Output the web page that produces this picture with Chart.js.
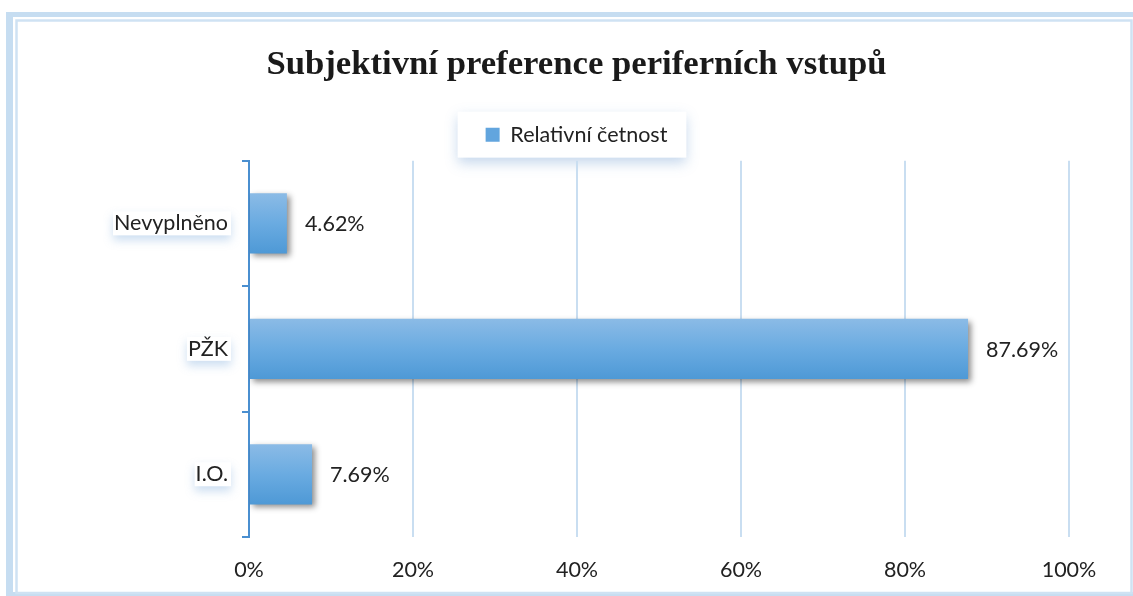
<!DOCTYPE html>
<html>
<head>
<meta charset="utf-8">
<script src="https://cdn.jsdelivr.net/npm/chart.js@4.4.1/dist/chart.umd.min.js"></script>
<style>
  html, body { margin: 0; padding: 0; background: #ffffff; }
  canvas { display: block; }
</style>
</head>
<body>
<canvas id="c" width="1133" height="596"></canvas>
<script>
const chartTitle = 'Subjektivní preference periferních vstupů';
const seriesName = 'Relativní četnost';
const categories = ['Nevyplněno', 'PŽK', 'I.O.'];
const values = [4.62, 87.69, 7.69];
const valueLabels = ['4.62%', '87.69%', '7.69%'];
const axisMin = 0;
const axisMax = 100;
const axisStep = 20;

const FONT = 'Lato, "Open Sans", sans-serif';
const FS = 21.5;

const framePlugin = {
  id: 'frame',
  beforeDraw(chart) {
    const ctx = chart.ctx;
    const W = chart.width, H = chart.height;
    ctx.save();
    ctx.fillStyle = '#ffffff';
    ctx.fillRect(0, 0, W, H);
    // outer band
    ctx.fillStyle = '#c6ddf1';
    ctx.fillRect(6, 12, W - 6, 5);
    ctx.fillRect(6, 12, 7, H - 12);
    ctx.fillRect(6, 592, W - 6, 4);
    // inner line
    ctx.strokeStyle = '#cfe2f3';
    ctx.lineWidth = 2.5;
    ctx.strokeRect(16.5, 20.5, W - 18, 572.5);
    // legend frame
    const lg = chart.legend;
    if (lg && lg.legendHitBoxes && lg.legendHitBoxes.length) {
      const hb = lg.legendHitBoxes[0];
      const x0 = hb.left - 28, x1 = hb.left + hb.width + 19;
      const y0 = lg.top - 2.25, y1 = lg.top + 43.75;
      ctx.shadowColor = 'rgba(90,140,200,0.35)';
      ctx.shadowBlur = 12;
      ctx.shadowOffsetY = 5;
      ctx.fillStyle = '#ffffff';
      ctx.fillRect(x0, y0, x1 - x0, y1 - y0);
      ctx.shadowColor = 'transparent';
    }
    // soft glow behind category labels
    const ys = chart.scales.y;
    if (ys) {
      ctx.font = FS + 'px ' + FONT;
      categories.forEach((c, i) => {
        const yc = ys.getPixelForValue(i);
        const w = ctx.measureText(c).width;
        const xr = 229;
        ctx.shadowColor = 'rgba(110,160,215,0.35)';
        ctx.shadowBlur = 10;
        ctx.shadowOffsetY = 5;
        ctx.fillStyle = '#ffffff';
        ctx.fillRect(xr - w - 2, yc - 12, w + 4, 24);
      });
      ctx.shadowColor = 'transparent';
    }
    ctx.restore();
  },
  beforeDatasetsDraw(chart) {
    const ctx = chart.ctx;
    ctx.save();
    ctx.shadowColor = 'rgba(0,0,0,0.45)';
    ctx.shadowBlur = 6;
    ctx.shadowOffsetX = 3;
    ctx.shadowOffsetY = 3;
  },
  afterDatasetsDraw(chart) {
    const ctx = chart.ctx;
    ctx.restore();
    const meta = chart.getDatasetMeta(0);
    ctx.save();
    ctx.font = FS + 'px ' + FONT;
    ctx.fillStyle = '#222222';
    ctx.textAlign = 'left';
    ctx.textBaseline = 'middle';
    meta.data.forEach((bar, i) => {
      ctx.fillText(valueLabels[i], bar.x + 18, bar.y + 1);
    });
    ctx.restore();
  }
};

function barGradient(context) {
  const chart = context.chart;
  const ys = chart.scales.y;
  if (!ys || context.type !== 'data' || !Number.isFinite(context.dataIndex)) return '#62a5de';
  const yc = ys.getPixelForValue(context.dataIndex);
  if (!Number.isFinite(yc)) return '#62a5de';
  const g = chart.ctx.createLinearGradient(0, yc - 30, 0, yc + 30);
  g.addColorStop(0, '#8bbbe6');
  g.addColorStop(0.5, '#6aabe1');
  g.addColorStop(1, '#4e99d6');
  return g;
}

new Chart(document.getElementById('c'), {
  type: 'bar',
  data: {
    labels: categories,
    datasets: [{
      label: seriesName,
      data: values,
      xAxisID: 'x',
      yAxisID: 'y',
      backgroundColor: barGradient,
      borderWidth: 0,
      categoryPercentage: 1,
      barPercentage: 0.48
    }]
  },
  plugins: [framePlugin],
  options: {
    indexAxis: 'y',
    responsive: false,
    devicePixelRatio: 1,
    animation: false,
    layout: { padding: { top: 20, left: 30, right: 10, bottom: 8 } },
    plugins: {
      title: {
        display: true,
        text: chartTitle,
        color: '#1a1a1a',
        font: { family: '"Liberation Serif", "Times New Roman", serif', size: 34.7, weight: 'bold', lineHeight: 1.2 },
        padding: { top: 24, bottom: 28.25 }
      },
      legend: {
        display: true,
        position: 'top',
        labels: {
          color: '#222222',
          font: { family: FONT, size: FS },
          boxWidth: 14,
          boxHeight: 14,
          padding: 10,
          generateLabels: (c) => Chart.defaults.plugins.legend.labels.generateLabels(c).map(l => Object.assign(l, { fillStyle: '#62a5de', strokeStyle: '#62a5de', lineWidth: 0 }))
        }
      },
      tooltip: { enabled: false }
    },
    scales: {
      spacer: {
        type: 'linear',
        axis: 'x',
        position: 'top',
        display: true,
        grid: { display: false, drawTicks: false },
        ticks: { display: false },
        border: { display: false },
        afterFit(s) { s.height = 5.25; }
      },
      rightSpacer: {
        type: 'linear',
        axis: 'y',
        position: 'right',
        display: true,
        grid: { display: false, drawTicks: false },
        ticks: { display: false },
        border: { display: false },
        afterFit(s) { s.width = 54; }
      },
      x: {
        type: 'linear',
        position: 'bottom',
        min: axisMin,
        max: axisMax,
        ticks: {
          stepSize: axisStep,
          color: '#222222',
          font: { family: FONT, size: FS },
          padding: 20,
          callback: (v) => v + '%'
        },
        grid: { color: '#c9def1', lineWidth: 2, drawTicks: false },
        border: { display: false },
        afterFit(s) { s.height = 51; }
      },
      y: {
        type: 'category',
        position: 'left',
        ticks: {
          color: '#222222',
          font: { family: FONT, size: FS },
          padding: 14
        },
        grid: { drawOnChartArea: false, color: '#4a8fd0', lineWidth: 2, tickLength: 7, offset: true },
        border: { display: true, color: '#4a8fd0', width: 2 },
        afterFit(s) { s.width = 219; }
      }
    }
  }
});
</script>
</body>
</html>
